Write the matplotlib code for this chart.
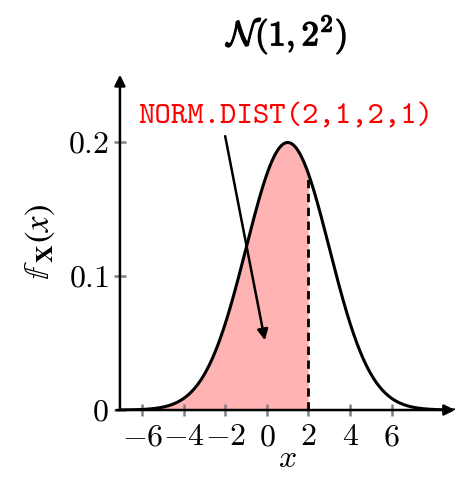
import numpy as np
import matplotlib
matplotlib.use("Agg")
import matplotlib.pyplot as plt
import matplotlib.patheffects as pe

plt.rcParams['mathtext.fontset'] = 'cm'
plt.rcParams['font.family'] = 'serif'
plt.rcParams['font.serif'] = ['cmr10', 'DejaVu Serif']

# distribution N(1, 2^2), shaded up to x = 2
mu = 1.0
sigma = 2.0
x_cut = 2.0
x_ticks = [-6, -4, -2, 0, 2, 4, 6]
y_ticks = [0, 0.1, 0.2]
y_tick_labels = ["$0$", "$0.1$", "$0.2$"]
label_text = "NORM.DIST(2,1,2,1)"

xs = np.linspace(-7.1, 9.1, 600)
pdf = np.exp(-0.5 * ((xs - mu) / sigma) ** 2) / (sigma * np.sqrt(2 * np.pi))
pdf_cut = np.exp(-0.5 * ((x_cut - mu) / sigma) ** 2) / (sigma * np.sqrt(2 * np.pi))

fig = plt.figure(figsize=(4.56, 4.79), dpi=100)
ax = fig.add_axes([0.263, 0.144, 0.735, 0.70])
ax.set_xlim(-7.08, 9.06)
ax.set_ylim(0, 0.25)

mask = xs <= x_cut
ax.fill_between(xs[mask], 0, pdf[mask], color="#ffb3b3", lw=0)
ax.plot(xs, pdf, color="black", lw=2.2)
ax.plot([x_cut, x_cut], [0, pdf_cut], color="black", lw=2, ls=(0, (3, 2)))

for s in ax.spines.values():
    s.set_visible(False)

# axis arrows
ax.annotate("", xy=(1.0, 0), xytext=(-0.01, 0), xycoords="axes fraction",
            arrowprops=dict(arrowstyle="-|>", color="black", lw=1.8, mutation_scale=16,
                            shrinkA=0, shrinkB=0))
ax.annotate("", xy=(0, 1.0), xytext=(0, 0), xycoords="axes fraction",
            arrowprops=dict(arrowstyle="-|>", color="black", lw=1.8, mutation_scale=16,
                            shrinkA=0, shrinkB=0))

ax.set_xticks(x_ticks)
ax.set_xticklabels([f"${t}$" if t >= 0 else f"$-{abs(t)}$" for t in x_ticks])
ax.set_yticks(y_ticks)
ax.set_yticklabels(y_tick_labels)
ax.tick_params(direction="inout", length=8, width=1.8, color="#808080", labelsize=23)
ax.tick_params(axis="x", pad=6)
ax.tick_params(axis="y", pad=4)

ax.set_xlabel("$x$", fontsize=23, labelpad=-4)
ax.set_ylabel(r"$\mathbb{f}_{\ \mathbf{X}}(x)$", fontsize=25, labelpad=8, math_fontfamily="stix")

fig.text(0.63, 0.928, r"$\mathcal{N}\mathbf{(1,2^2)}$", fontsize=25, ha="center", va="center",
         path_effects=[pe.withStroke(linewidth=1.0, foreground="black")])

ax.annotate(label_text, xy=(-0.1, 0.052), xytext=(0.92, 0.218),
            color="red", fontsize=22.5, family="cmtt10", ha="center", va="center",
            arrowprops=dict(arrowstyle="-|>", color="black", lw=1.8, mutation_scale=16,
                            shrinkA=2, shrinkB=0, relpos=(0.29, 0.0)))

fig.savefig("out.png", dpi=100)
